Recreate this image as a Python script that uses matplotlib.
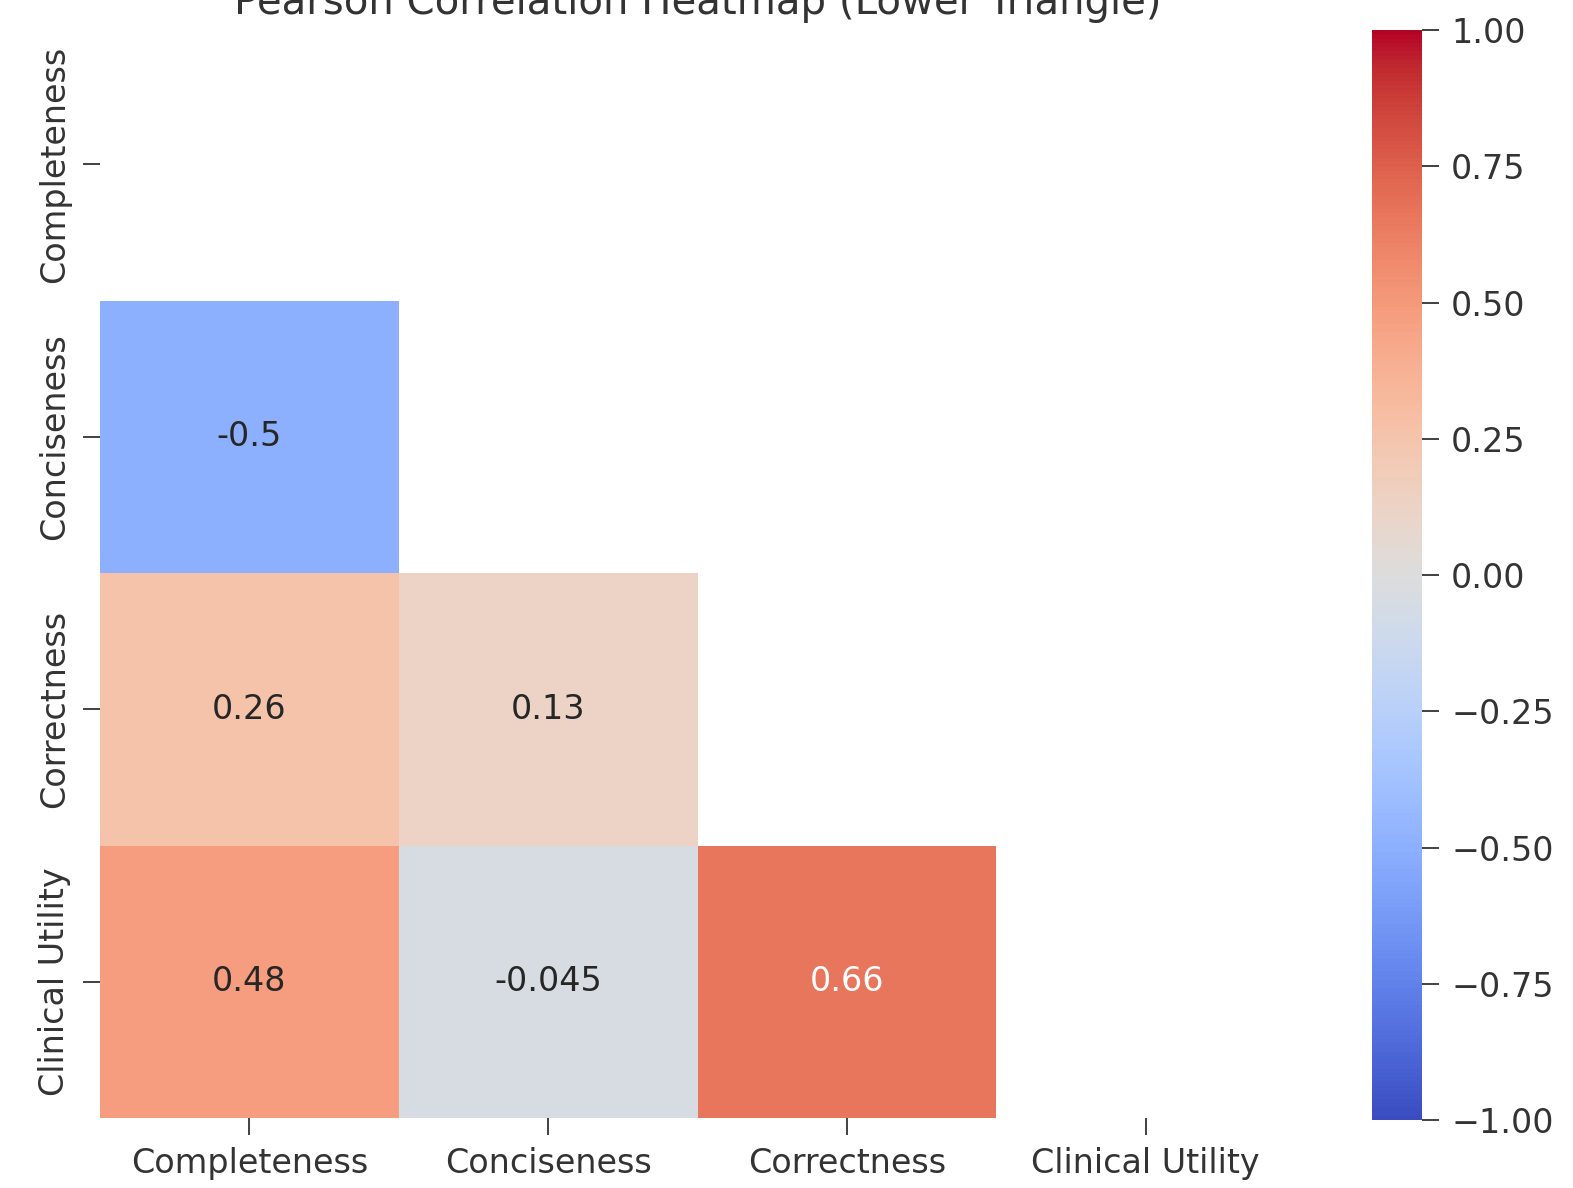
import numpy as np
import matplotlib
matplotlib.use("Agg")
import matplotlib.pyplot as plt
import seaborn as sns

# 相関係数
labels = ["Completeness", "Conciseness", "Correctness", "Clinical Utility"]
corr = np.array([
    [1.00, -0.50, 0.26, 0.48],
    [-0.50, 1.00, 0.13, -0.045],
    [0.26, 0.13, 1.00, 0.66],
    [0.48, -0.045, 0.66, 1.00],
])
cbar_ticks = [-1.00, -0.75, -0.50, -0.25, 0.00, 0.25, 0.50, 0.75, 1.00]

# 上三角（対角含む）をマスク
mask = np.triu(np.ones_like(corr, dtype=bool))

plt.rcParams["font.family"] = ["DejaVu Sans"]
plt.rcParams["font.size"] = 24
plt.rcParams["text.color"] = "#333333"
plt.rcParams["xtick.color"] = "#333333"
plt.rcParams["ytick.color"] = "#333333"

fig = plt.figure(figsize=(15.73, 11.88), dpi=100)
ax = fig.add_axes([0.0636, 0.0589, 0.7597, 0.9175])
cax = fig.add_axes([0.8722, 0.0572, 0.0318, 0.9175])

sns.heatmap(corr, mask=mask, cmap="coolwarm", vmin=-1, vmax=1, annot=True,
            xticklabels=labels, yticklabels=labels, ax=ax, cbar_ax=cax,
            annot_kws={"fontsize": 24})

ax.set_title("Pearson Correlation Heatmap (Lower Triangle)", fontsize=29, pad=10)
ax.tick_params(axis="both", labelsize=24, length=12, width=1.3, pad=9)
ax.set_yticklabels(labels, rotation=90, va="center")
ax.set_xticklabels(labels, rotation=0)

cax.tick_params(labelsize=24, length=12, width=1.3, pad=9)
cax.set_yticks(cbar_ticks)
cax.set_yticklabels([f"{v:.2f}".replace("-", "\u2212") for v in cbar_ticks])

fig.savefig("out.png", dpi=100)
